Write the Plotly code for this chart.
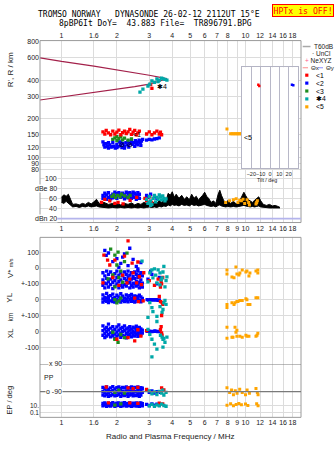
import math
import plotly.graph_objects as go

W, H = 335, 451

# ---------------- text ----------------
title_line1 = "TROMSO NORWAY   DYNASONDE 26-02-12 2112UT 15°E"
title_line2 = "8pBP6It DoY=  43.883 File=  TR896791.BPG"
status_text = "HPTx is OFF!"
x_title = "Radio and Plasma Frequency / MHz"

# ---------------- ticks ----------------
freq_tick_vals = [1, 1.5, 2, 3, 4, 5, 6, 7, 8, 9, 10, 12, 14, 16, 18]
freq_top_text = ["1", "1.6", "2", "3", "4", "5", "6", "7", "8", "", "10", "12", "14", "16", "18"]
freq_bot_text = ["1", "1.6", "2", "3", "4", "5", "6", "7", "8", "9", "10", "12", "14", "16", "18"]
height_ticks = [800, 600, 400, 300, 200, 150, 120, 100, 90, 80]
db_ticks = [100, 80, 60, 40, 20]
db_tick_text = ["100", "dBe 80", "60", "40", "dBn 20"]
noise_level_db = 20
tilt_ticks = [-20, -10, 0, 10, 20]
vstar_ticks, vstar_text = [100, 0, -100], ["100", "0", "+-100"]
yl_ticks, yl_text = [0, -100], ["0", "+-100"]
xl_ticks, xl_text = [0, -100], ["0", "-100"]
pp_marks = [90, -90]
ep_ticks, ep_text = [10, 0.1], ["10.", "0.1"]

# ---------------- panel 1: virtual height (MHz, km) ----------------
model_upper_f = [0.764, 1.0, 1.5, 2.0, 2.5, 3.0, 3.5, 3.75]
model_upper_h = [598, 560, 515, 482, 458, 437, 418, 409]
model_lower_f = [0.764, 1.0, 1.5, 2.0, 2.5, 3.0, 3.4, 3.72]
model_lower_h = [280, 295, 322, 341, 356, 372, 390, 408]

red_h = [(1.68,158),(1.72,152),(1.75,162),(1.8,155),(1.85,150),(1.9,160),(1.95,152),(2.0,157),
         (2.05,163),(2.1,150),(2.15,156),(2.2,160),(2.25,153),(2.3,158),(2.35,165),(2.4,151),
         (2.45,157),(2.5,162),(2.55,150),(2.6,155),(2.65,160),(2.9,152),(3.0,158),(3.1,150),
         (3.2,155),(3.3,160),(3.4,152),(3.45,157),(3.5,150),(3.05,370),(3.1,345)]
blue_h = [(1.68,132),(1.7,125),(1.72,120),(1.75,128),(1.78,122),(1.8,118),(1.83,125),(1.86,120),
          (1.9,130),(1.93,122),(1.96,118),(2.0,126),(2.03,121),(2.06,132),(2.1,124),(2.13,119),
          (2.16,128),(2.2,122),(2.24,130),(2.28,125),(2.32,120),(2.36,128),(2.4,133),(2.44,126),
          (2.48,130),(2.52,135),(2.56,128),(2.6,132),(2.64,136),(2.68,130),(2.72,134),(2.76,138),
          (2.9,136),(3.0,138),(3.1,137),(3.2,139),(3.3,140),(3.4,142),(1.8,130),(1.9,121),
          (2.0,119),(2.1,131),(2.2,118),(2.3,133),(2.5,122),(2.6,125),(1.72,128),(2.7,124)]
green_h = [(1.9,138),(1.95,142),(2.0,135),(2.05,140),(2.1,145),(2.15,137),(2.2,141),(2.3,136),(2.4,139),(2.0,145)]
teal_h = [(2.67,323),(2.77,340),(2.95,360),(3.02,373),(3.1,395),(3.2,385),(3.3,410),(3.4,400),
          (3.5,415),(3.56,410),(3.65,405),(3.74,400),(3.35,390)]
orange_h = [(7.93,166),(8.3,153),(8.45,153),(8.6,153),(8.75,153),(8.9,153),(9.05,153),(9.2,153),
            (9.35,153),(9.5,153),(9.65,153),(10.0,156),(10.1,154),(11.4,154),(11.6,155),(11.7,157)]
leader_labels = [("✱4", 3.5, 355), ("⊘", 2.12, 127), ("⊘", 2.36, 127), ("<1", 2.56, 150), ("<5", 10.3, 143)]

# inset: tilt (deg, km)
inset_red = [(-12.5, 368), (-11.5, 360)]
inset_blue = [(23.5, 368), (25.0, 365)]

# ---------------- panel 2: amplitude (MHz, lo dB, hi dB) ----------------
amp_rows = [(1.00,52,62),(1.03,50,67),(1.06,54,64),(1.09,50,68),(1.12,47,58),(1.15,43,48),(1.20,44,49),
            (1.25,42,47),(1.30,44,50),(1.35,43,48),(1.40,45,52),(1.45,43,49),(1.50,44,53),(1.55,45,58),
            (1.60,43,50),(1.70,42,52),(1.80,41,48),(1.90,42,50),(2.00,41,49),(2.10,42,47),(2.20,41,50),
            (2.30,42,48),(2.40,41,51),(2.50,42,47),(2.60,41,50),(2.70,42,48),(2.80,41,52),(2.90,42,50),
            (3.00,43,55),(3.10,42,49),(3.20,43,53),(3.30,42,50),(3.40,44,56),(3.50,43,52),(3.60,45,58),
            (3.70,44,55),(3.80,47,70),(3.90,45,66),(4.00,48,73),(4.10,46,62),(4.20,47,68),(4.35,45,60),
            (4.50,48,66),(4.65,46,58),(4.80,47,63),(4.95,45,57),(5.10,48,68),(5.25,46,60),(5.40,47,64),
            (5.55,45,56),(5.70,46,62),(5.85,47,66),(6.00,48,72),(6.15,46,64),(6.30,45,60),(6.50,44,52),
            (6.70,45,55),(6.90,43,50),(7.10,46,68),(7.25,47,76),(7.40,45,66),(7.60,44,56),(7.80,43,52),
            (8.00,44,55),(8.30,43,50),(8.60,44,54),(8.90,43,49),(9.20,44,52),(9.50,45,62),(9.80,46,72),
            (10.0,45,66),(10.3,44,58),(10.6,43,55),(10.9,44,52),(11.2,43,56),(11.5,44,60),(11.8,45,63),
            (12.1,43,55),(12.5,42,48),(13.0,42,46),(13.5,41,48),(14.0,41,45),(14.5,41,46),(15.0,41,44),
            (15.4,41,42)]
blue_db = [(1.68,60),(1.68,66),(1.72,63),(1.72,70),(1.76,58),(1.76,67),(1.8,62),(1.8,71),(1.85,65),
           (1.85,59),(1.9,68),(1.9,61),(1.95,72),(1.95,64),(2.0,60),(2.0,69),(2.05,66),(2.05,71),
           (2.1,62),(2.1,68),(2.15,70),(2.15,64),(2.2,59),(2.2,67),(2.25,72),(2.25,63),(2.3,61),
           (2.3,69),(2.35,66),(2.35,71),(2.4,60),(2.4,68),(2.45,64),(2.45,72),(2.5,62),(2.5,70),
           (2.55,58),(2.55,67),(2.6,65),(2.6,71),(2.65,60),(2.65,68),(2.9,66),(2.95,62),(3.05,68),
           (3.2,64),(3.3,60)]
green_db = [(1.88,64),(1.92,67),(1.97,62),(2.02,66),(2.08,63),(2.12,68),(2.2,65),(2.3,62),(2.36,66)]
red_db = [(1.65,52),(1.72,58),(1.83,55),(1.95,50),(2.03,52),(2.16,49),(2.36,56),(2.56,62),
          (2.84,60),(2.90,55),(3.02,63),(3.09,52)]
teal_db = [(2.9,58),(2.95,50),(3.0,64),(3.05,55),(3.1,48),(3.15,60),(3.2,66),(3.25,53),(3.3,62),
           (3.35,58),(3.4,67),(3.45,63),(3.5,57),(3.55,65),(3.6,60),(3.65,55),(3.7,59),(3.05,46),(3.0,52)]
orange_db = [(7.8,52),(8.2,55),(8.6,57),(8.9,59),(9.1,52),(9.3,56),(9.5,55),(9.7,58),(9.9,50),
             (10.2,57),(10.4,52),(10.5,47),(11.4,49),(11.6,55),(11.5,52)]

# ---------------- lower panel ----------------
clu_f = [1.68,1.72,1.76,1.80,1.85,1.90,1.95,2.00,2.05,2.10,2.15,2.20,2.25,2.30,2.35,2.40,2.45,2.50,
         2.55,2.60,2.65,2.70,2.75]
blue_vs_band = [[-30,-75,-110],[-50,-95,-125],[-20,-65,-100],[-40,-85,-120],[-25,-70,-105],[-55,-90,-130],
                [-35,-80,-115],[-20,-60,-100],[-45,-85,-125],[-30,-75,-110],[-50,-95,-120],[-25,-65,-105],
                [-40,-80,-115],[-20,-60,-95],[-45,-90,-125],[-30,-70,-110],[-55,-95,-120],[-25,-65,-100],
                [-40,-85,-115],[-20,-60,-105],[-45,-90,-125],[-30,-75,-110],[-50,-95,-120]]
blue_yl_band = [[30,5,-15],[15,-5],[40,10,-10],[20,0,-18],[25,-8],[35,8,-12],[12,-15],[28,2,-10],[18,-6],
                [38,6,-16],[22,-4],[10,-12],[30,4,-8],[16,-14],[26,0],[34,8,-10],[14,-6],[24,-16],[20,2],
                [12,-10],[28,-4],[18,-14],[8,-6]]
blue_xl_band = [[35,5,-25],[15,-15,-40],[25,0,-30],[45,10,-20],[20,-10,-35],[30,2,-28],[12,-18,-45],
                [28,-5,-30],[40,8,-22],[18,-12,-38],[25,-2,-26],[35,6,-30],[15,-15,-42],[22,-4,-28],
                [30,8,-20],[14,-10,-35],[26,0,-24],[20,-8,-30],[32,4,-18],[10,-14,-32],[24,-2,-26],
                [16,-8,-22],[8,-12]]
blue_pp_band = [[-62,-88,-112],[-70,-95,-118],[-60,-85,-108],[-75,-100,-120],[-65,-90,-115],[-58,-84,-110],
                [-72,-96,-118],[-64,-90,-114],[-60,-86,-108],[-70,-94,-120],[-62,-88,-112],[-66,-92,-116],
                [-60,-85,-110],[-74,-98,-120],[-64,-88,-112],[-60,-86,-108],[-70,-94,-118],[-62,-90,-114],
                [-66,-92,-116],[-60,-84,-110],[-72,-96,-120],[-64,-90,-112],[-68,-94]]
blue_ep_band = [[40,8],[60,12],[25,6],[50,10],[35,7],[65,14],[30,6],[45,9],[55,11],[28,6],[48,8],[62,12],
                [32,7],[42,9],[58,10],[26,6],[50,8],[36,12],[60,7],[30,9],[44,6],[52,11],[34,8]]

blue_vs_extra = [(1.75,80),(1.80,95),(1.90,40),(2.00,60),(2.10,30),(2.20,90),(2.30,15),(2.45,55),(2.55,10),
                 (2.70,35),(2.35,125),(2.05,5),(1.72,112),(2.15,69),(2.60,-5),
                 (2.95,-70),(3.10,-40),(3.30,-100),(3.40,-60),(3.05,-20)]
blue_yl_extra = [(2.92,0),(2.98,-3),(3.04,0),(3.10,-2),(3.16,0),(3.22,-3),(3.28,0),(3.34,-4),(3.40,-2)]
blue_xl_extra = [(2.92,0),(2.98,2),(3.04,0),(3.10,-2),(3.16,0),(3.22,2),(3.28,0),(3.34,-2),(3.40,0)]
blue_pp_extra = [(2.9,-80),(3.0,-95),(3.1,-85),(3.2,-100),(3.3,-90),(3.45,-95)]
blue_ep_extra = [(2.9,20),(3.0,10),(3.1,30),(3.2,12),(3.3,25),(3.4,15)]

red_vs = [(1.70,81),(1.78,50),(1.83,19),(1.68,-94),(1.95,50),(2.42,31),(2.60,38),(2.45,-31),(2.56,-94),
          (2.27,-94),(2.30,172),(1.90,-60),(2.05,-110),(2.15,-45),(2.20,75),(2.35,-70),(2.65,-55),
          (2.72,-105),(2.80,-30),(3.00,-80),(3.20,-110),(3.35,-70),(3.45,-120),(3.50,-100),(3.55,-60),(3.48,-85)]
red_yl = [(2.50,10),(2.62,-12),(2.78,-8),(3.45,-12),(3.52,-18),(3.40,20),(3.55,-30)]
red_xl = [(2.00,-50),(2.30,-40),(2.50,-60),(2.60,10),(2.70,-30),(2.90,5),(3.45,10),(3.50,-10),(3.52,-25),
          (3.48,30),(3.50,100)]
red_pp = [(1.75,-60),(2.30,-65),(2.45,-70),(2.60,-62),(2.90,-75),(3.50,-66),(3.60,-78)]
red_ep = [(1.80,60),(2.35,55),(2.60,40),(3.40,50),(3.55,30)]

green_vs = [(1.95,81),(2.03,100),(2.27,94),(2.00,19),(1.90,-44),(1.95,-119),(1.79,-69),(2.10,-20),
            (2.20,40),(2.15,-90),(2.05,-60),(1.85,120)]
green_yl = [(1.95,0),(2.00,-20),(2.10,10),(2.05,-8)]
green_xl = [(1.90,-6),(1.95,-50),(2.03,-69),(2.10,-20),(2.20,-40)]
green_pp = [(1.95,-95),(2.05,-80),(2.20,-100)]
green_ep = [(1.95,12),(2.10,30)]

teal_vs = [(2.74,44),(3.10,-12),(3.02,-31),(3.35,-12),(3.43,-31),(3.52,-62),(3.56,-25),(3.74,-56),(3.30,-94),
           (3.43,-106),(3.65,-119),(3.14,-62),(2.95,-87),(3.20,-5),(3.60,10),(3.70,-80),(3.25,-45),(3.48,-75)]
teal_yl = [(3.02,-19),(3.10,-50),(3.14,-75),(3.30,-106),(2.95,-112),(3.43,-44),(3.56,-62),(3.65,-5),
           (3.52,-81),(3.70,-30),(3.60,-20)]
teal_xl = [(2.95,12),(3.02,-19),(3.10,-50),(3.20,-81),(3.52,-37),(3.56,-50),(3.65,-69),(3.56,-100),
           (3.10,-162),(3.30,-112),(3.74,-37),(3.60,-45),(3.45,-25),(3.30,62)]
teal_pp = [(3.0,-85),(3.1,-105),(3.2,-92),(3.3,-110),(3.4,-88),(3.5,-100),(3.6,-112),(3.7,-95),(3.55,-80)]
teal_ep = [(3.0,8),(3.1,20),(3.2,6),(3.3,15),(3.4,8),(3.5,25),(3.6,10),(3.7,6)]

orange_vs = [(7.93,-12),(8.87,6),(7.93,-37),(8.44,-56),(8.66,-62),(8.98,-37),(9.32,-31),(9.60,-12),
             (10.05,-25),(10.18,-19),(10.57,-31),(10.44,-50),(11.40,-19),(11.67,-12),(11.67,-31),(9.21,-44)]
orange_yl = [(7.93,-31),(7.93,-50),(8.44,-19),(8.66,-31),(8.77,-19),(8.98,-12),(9.10,-12),(9.32,-6),
             (9.60,-6),(10.05,6),(10.18,0),(10.31,-31),(10.57,-31),(11.40,12),(11.67,12)]
orange_xl = [(7.93,25),(7.93,-44),(8.77,25),(8.98,6),(8.87,-6),(8.44,-37),(8.55,-37),(8.98,-31),(9.32,-31),
             (9.60,-37),(10.05,-25),(10.18,-31),(10.44,-31),(11.40,-31),(11.67,-12),(11.55,-25)]
orange_pp = [(7.93,-65),(8.2,-95),(8.4,-80),(8.6,-110),(8.8,-85),(9.0,-100),(9.3,-75),(9.6,-95),
             (10.0,-110),(10.2,-80),(10.5,-100),(11.4,-70),(11.6,-95),(11.7,-110)]
orange_ep = [(7.93,12),(8.3,30),(8.6,8),(8.9,20),(9.2,40),(9.5,15),(10.0,25),(10.3,10),(11.5,30),(11.7,8)]

# ---------------- styles ----------------
RED, BLUE, GREEN, TEAL, ORANGE = "#ff0000", "#0000ff", "#1e8c1e", "#00a8a8", "#ffa500"
CURVE = "#a3204a"
GRID = "#dcdcdc"
FRAME = "#9a9a9a"
TXT = "#1a1a1a"
SANS = "Liberation Sans, Arial, sans-serif"
MONO = "DejaVu Sans Mono, monospace"
MS = 3.3


def split(pairs):
    return [p[0] for p in pairs], [p[1] for p in pairs]


def expand(freqs, groups):
    xs, ys = [], []
    for f, g in zip(freqs, groups):
        for v in g:
            xs.append(f)
            ys.append(v)
    return xs, ys


def dom(top_px, bot_px):
    return [1 - bot_px / H, 1 - top_px / H]


fig = go.Figure()


def pts(pairs, color, xa, ya, size=MS):
    x, y = split(pairs)
    fig.add_trace(go.Scatter(x=x, y=y, mode="markers", xaxis=xa, yaxis=ya,
                             marker=dict(symbol="square", size=size, color=color, line_width=0),
                             showlegend=False, hoverinfo="skip"))


def band(groups, color, xa, ya, size=MS):
    x, y = expand(clu_f, groups)
    pts(list(zip(x, y)), color, xa, ya, size)


# panel 1
fig.add_trace(go.Scatter(x=model_upper_f, y=model_upper_h, mode="lines", line=dict(color=CURVE, width=1.2),
                         xaxis="x", yaxis="y", showlegend=False, hoverinfo="skip"))
fig.add_trace(go.Scatter(x=model_lower_f, y=model_lower_h, mode="lines", line=dict(color=CURVE, width=1.2),
                         xaxis="x", yaxis="y", showlegend=False, hoverinfo="skip"))
pts(blue_h, BLUE, "x", "y")
pts(green_h, GREEN, "x", "y")
pts(red_h, RED, "x", "y")
pts(teal_h, TEAL, "x", "y")
pts(orange_h, ORANGE, "x", "y", 3.0)
pts(inset_red, RED, "x5", "y8", 2.4)
pts(inset_blue, BLUE, "x5", "y8", 2.4)

# panel 2
af = [r[0] for r in amp_rows]
alo = [r[1] for r in amp_rows]
ahi = [r[2] for r in amp_rows]
fig.add_trace(go.Scatter(x=af, y=alo, mode="lines", line=dict(color="black", width=1),
                         xaxis="x2", yaxis="y2", showlegend=False, hoverinfo="skip"))
fig.add_trace(go.Scatter(x=af, y=ahi, mode="lines", line=dict(color="black", width=1), fill="tonexty",
                         fillcolor="black", xaxis="x2", yaxis="y2", showlegend=False, hoverinfo="skip"))
pts(blue_db, BLUE, "x2", "y2")
pts(green_db, GREEN, "x2", "y2")
pts(red_db, RED, "x2", "y2")
pts(teal_db, TEAL, "x2", "y2")
pts(orange_db, ORANGE, "x2", "y2", 3.0)

# lower panel
band(blue_vs_band, BLUE, "x3", "y3")
band(blue_yl_band, BLUE, "x3", "y4")
band(blue_xl_band, BLUE, "x3", "y5")
band(blue_pp_band, BLUE, "x4", "y6")
band(blue_ep_band, BLUE, "x4", "y7")
pts(blue_vs_extra, BLUE, "x3", "y3")
pts(blue_yl_extra, BLUE, "x3", "y4")
pts(blue_xl_extra, BLUE, "x3", "y5")
pts(blue_pp_extra, BLUE, "x4", "y6")
pts(blue_ep_extra, BLUE, "x4", "y7")
for data, ya in ((green_vs, "y3"), (green_yl, "y4"), (green_xl, "y5")):
    pts(data, GREEN, "x3", ya)
pts(green_pp, GREEN, "x4", "y6")
pts(green_ep, GREEN, "x4", "y7")
for data, ya in ((red_vs, "y3"), (red_yl, "y4"), (red_xl, "y5")):
    pts(data, RED, "x3", ya)
pts(red_pp, RED, "x4", "y6")
pts(red_ep, RED, "x4", "y7")
for data, ya in ((teal_vs, "y3"), (teal_yl, "y4"), (teal_xl, "y5")):
    pts(data, TEAL, "x3", ya)
pts(teal_pp, TEAL, "x4", "y6")
pts(teal_ep, TEAL, "x4", "y7")
for data, ya in ((orange_vs, "y3"), (orange_yl, "y4"), (orange_xl, "y5")):
    pts(data, ORANGE, "x3", ya, 3.0)
pts(orange_pp, ORANGE, "x4", "y6", 3.0)
pts(orange_ep, ORANGE, "x4", "y7", 3.0)

# ---------------- axes ----------------
XR = [-0.1168, 1.3016]
XD = [40 / W, 301 / W]
tf = dict(size=7, color=TXT, family=SANS)


def xax(anchor, text, show=True, side="bottom"):
    return dict(type="log", range=XR, domain=XD, anchor=anchor, tickvals=freq_tick_vals, ticktext=text,
                showticklabels=show, side=side, showgrid=True, gridcolor=GRID, gridwidth=1, ticks="",
                tickangle=0, zeroline=False, showline=False, tickfont=tf, fixedrange=True)


def yax(**kw):
    d = dict(showgrid=True, gridcolor=GRID, gridwidth=1, ticks="", zeroline=False, showline=False,
             tickfont=tf, fixedrange=True, tickangle=0)
    d.update(kw)
    return d


fig.update_layout(
    width=W, height=H, margin=dict(l=0, r=0, t=0, b=0), autosize=False,
    paper_bgcolor="white", plot_bgcolor="white",
    xaxis=xax("y", freq_top_text, side="top"),
    xaxis2=xax("y2", freq_bot_text),
    xaxis3=xax("y3", freq_bot_text, show=False),
    xaxis4=xax("y6", freq_bot_text),
    xaxis5=dict(domain=[242 / W, 298 / W], anchor="y8", range=[-30, 30], tickvals=tilt_ticks,
                showgrid=True, gridcolor="#b8b8c8", ticks="", tickangle=0, zeroline=False, showline=True,
                mirror=True, linecolor="#b4b4c4", tickfont=dict(size=5.5, color=TXT, family=SANS),
                fixedrange=True),
    yaxis=yax(domain=dom(38, 170), anchor="x", type="log", range=[1.8923, 2.9108], tickvals=height_ticks),
    yaxis2=yax(domain=dom(170, 222), anchor="x2", range=[12.2, 113.7], tickvals=db_ticks[:-1],
               showticklabels=False),
    yaxis3=yax(domain=dom(237, 365), anchor="x3", range=[-606.25, 193.75], tickvals=vstar_ticks,
               ticktext=vstar_text),
    yaxis4=yax(overlaying="y3", anchor="x3", side="left", range=[-406.25, 393.75], tickvals=yl_ticks,
               ticktext=yl_text),
    yaxis5=yax(overlaying="y3", anchor="x3", side="left", range=[-206.25, 593.75], tickvals=xl_ticks,
               ticktext=xl_text),
    yaxis6=yax(domain=dom(365, 419), anchor="x4", range=[-257.14, 90], showgrid=False, showticklabels=False),
    yaxis7=yax(overlaying="y6", anchor="x4", side="left", type="log", range=[-2.4286, 13], tickvals=ep_ticks,
               ticktext=ep_text, tickfont=dict(size=6.5, color=TXT, family=SANS)),
    yaxis8=dict(domain=dom(65, 167), anchor="x5", type="log", range=[1.9155, 2.7025], showgrid=False,
                showticklabels=False, ticks="", zeroline=False, showline=True, mirror=True,
                linecolor="#b4b4c4", fixedrange=True),
)

# ---------------- shapes ----------------
shapes = []
for top, bot in ((38, 222), (237, 419)):
    shapes.append(dict(type="rect", xref="paper", yref="paper", x0=40 / W, x1=301 / W, y0=1 - bot / H,
                       y1=1 - top / H, line=dict(color=FRAME, width=1), layer="above"))
for v in pp_marks:
    shapes.append(dict(type="line", xref="paper", yref="y6", x0=40 / W, x1=301 / W, y0=v, y1=v,
                       line=dict(color="#7a7a7a", width=1.3)))
shapes.append(dict(type="line", xref="paper", yref="y2", x0=40 / W, x1=301 / W, y0=noise_level_db,
                   y1=noise_level_db, line=dict(color="#b4b4ec", width=1.6)))
# legend glyphs
shapes.append(dict(type="line", xref="paper", yref="paper", x0=302.7 / W, x1=310.5 / W, y0=1 - 44 / H,
                   y1=1 - 44 / H, line=dict(color="#a8a8a8", width=1.5)))
shapes.append(dict(type="line", xref="paper", yref="paper", x0=302.7 / W, x1=308 / W, y0=1 - 65.5 / H,
                   y1=1 - 65.5 / H, line=dict(color="#ff8a8a", width=1)))
shapes.append(dict(type="line", xref="paper", yref="paper", x0=318.5 / W, x1=323 / W, y0=1 - 65.5 / H,
                   y1=1 - 65.5 / H, line=dict(color="#8a8aff", width=1)))
legend_items = [("<1", RED), ("<2", BLUE), ("<3", GREEN), ("✱4", TEAL), ("<5", ORANGE)]
for i, (lab, col) in enumerate(legend_items):
    yc = 73 + 8 * i
    shapes.append(dict(type="rect", xref="paper", yref="paper", x0=305.2 / W, x1=308.4 / W,
                       y0=1 - (yc + 1.6) / H, y1=1 - (yc - 1.6) / H, line=dict(width=0), fillcolor=col))
fig.update_layout(shapes=shapes)

# ---------------- annotations ----------------
ann = []


def text(x, y, s, size=7, color=TXT, xanchor="center", family=SANS, angle=0, **kw):
    ann.append(dict(x=x / W, y=1 - y / H, xref="paper", yref="paper", text=s, showarrow=False,
                    xanchor=xanchor, yanchor="middle", textangle=angle,
                    font=dict(size=size, color=color, family=family), **kw))


text(149, 11.5, title_line1, size=8, color="black", family=MONO)
text(155, 21, title_line2, size=8, color="black", family=MONO)
ann.append(dict(x=302.5 / W, y=1 - 8 / H, xref="paper", yref="paper", text=status_text, showarrow=False,
                xanchor="center", yanchor="middle", font=dict(size=8.2, color="#ff0000", family=MONO),
                bgcolor="#ffff00", bordercolor="#ff0000", borderwidth=1, borderpad=0.5))
text(10, 68, "R', R / km", size=8, angle=-90)
text(10, 268, "V* <span style='font-size:5.5px'>m/s</span>", size=8, angle=-90)
text(10, 298, "YL", size=8, angle=-90)
text(10, 318, "km", size=6.5, angle=-90)
text(10, 334, "XL", size=8, angle=-90)
text(10, 402, "EP / deg", size=7.5, angle=-90)
text(170, 438, x_title, size=8)
text(267, 178.5, "Tilt / deg", size=5.3)
text(42, 378.5, "PP", size=7, xanchor="left")
for v, s in zip(pp_marks, ["x 90", "o -90"]):
    ann.append(dict(x=63 / W, y=v, xref="paper", yref="y6", text=s, showarrow=False, xanchor="right",
                    yanchor="middle", bgcolor="white", borderpad=0, font=dict(size=7, color=TXT, family=SANS)))
for v, s in zip(db_ticks, db_tick_text):
    ann.append(dict(x=58 / W, y=v, xref="paper", yref="y2", text=s, showarrow=False, xanchor="right",
                    yanchor="middle", bgcolor="white", borderpad=0, font=dict(size=7, color=TXT, family=SANS)))
for s, f, h in leader_labels:
    ann.append(dict(x=math.log10(f), y=math.log10(h), xref="x", yref="y", text=s,
                    showarrow=False, xanchor="center", yanchor="middle",
                    font=dict(size=7, color="black", family=SANS)))
# legend text
text(311.5, 44, "T60dB", size=6.5, xanchor="left")
text(309.5, 51, "· UnCl", size=6.5, xanchor="left")
text(302.5, 58, "<span style='color:#ff5c8a'>+</span> NeXYZ", size=6.5, xanchor="left")
text(308.5, 65.5, "Θx", size=6.2, xanchor="left")
text(323.5, 65.5, "Θy", size=6.2, xanchor="left")
for i, (lab, col) in enumerate(legend_items):
    text(313.5, 73 + 8 * i, lab, size=6.8, color="black", xanchor="left")
fig.update_layout(annotations=ann)

fig.write_html("out.html")
